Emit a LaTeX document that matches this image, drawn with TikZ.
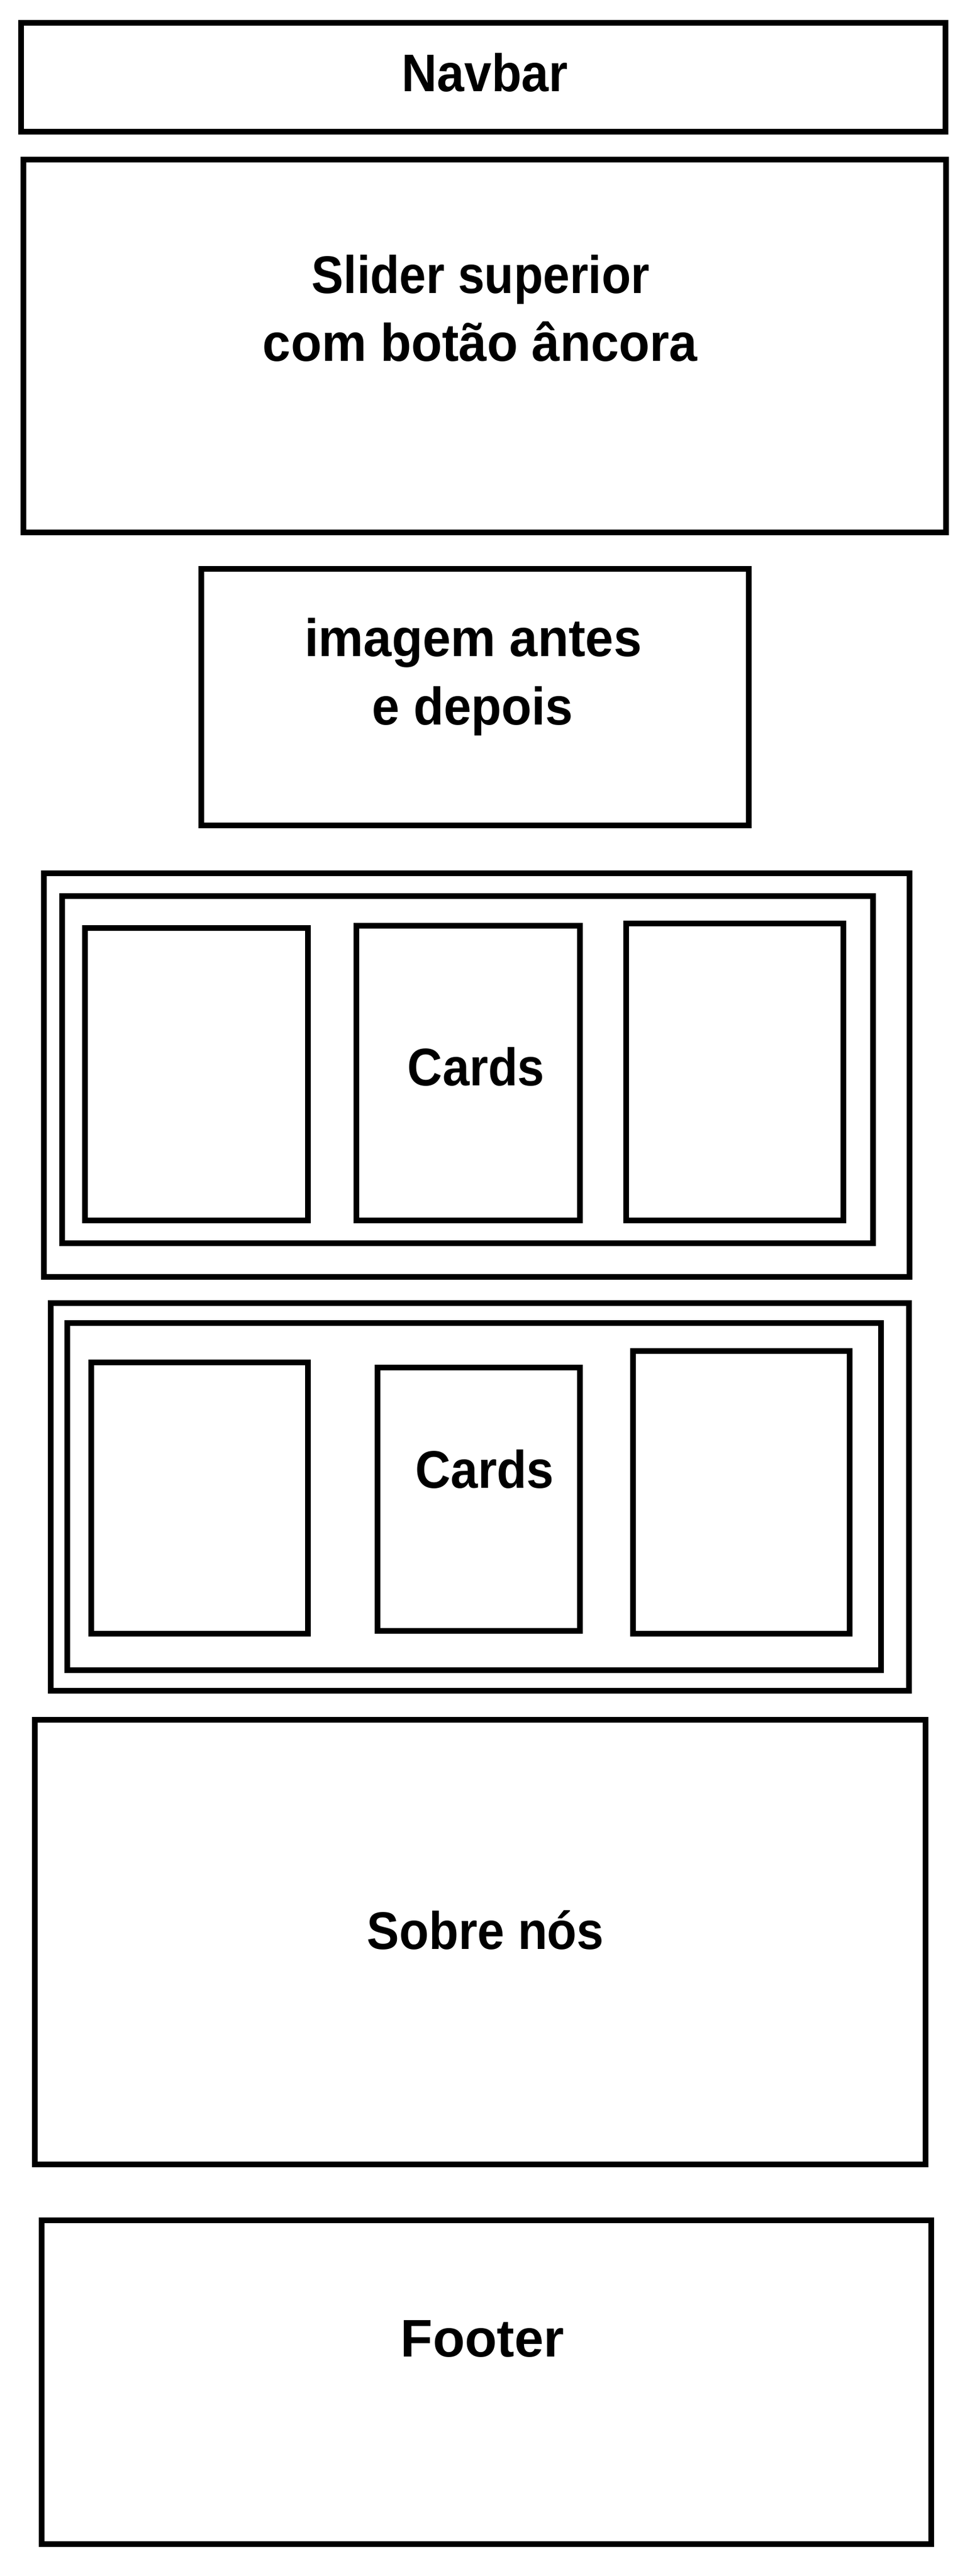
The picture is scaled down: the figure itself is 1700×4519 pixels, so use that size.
\documentclass[tikz,border=0pt]{standalone}
\usepackage{graphicx}
\usepackage{fontspec}
\newfontfamily\lblfont{Liberation Sans}
\newcommand\fitw[2]{\resizebox{#1}{\height}{#2}}
\usetikzlibrary{fit}
\tikzset{
  box/.style={draw=black, line width=0.1cm, inner sep=0pt, outer sep=0pt, fill=none},
  lbl/.style={anchor=base, inner sep=0pt, font=\lblfont\bfseries\fontsize{26.4pt}{34pt}\selectfont}
}
\begin{document}
\begin{tikzpicture}[x=0.01cm, y=-0.01cm]
\useasboundingbox[fill=white] (0,0) rectangle (1700,4519);
% Navbar
\node[box, fit={(37,40) (1658,231)}] (navbar) {};
\node[lbl] (tnavbar) at (850.5,161) {\fitw{2.91cm}{Navbar}};
% Slider
\node[box, fit={(41,280) (1659,934)}] (slider) {};
\node[lbl] (tslider1) at (843,515) {\fitw{5.92cm}{Slider superior}};
\node[lbl] (tslider2) at (842,634) {\fitw{7.62cm}{com botão âncora}};
% Imagem
\node[box, fit={(353,998) (1313,1448)}] (imagem) {};
\node[lbl] (timagem1) at (830,1151) {\fitw{5.91cm}{imagem antes}};
\node[lbl] (timagem2) at (829,1271) {\fitw{3.52cm}{e depois}};
% Cards 1
\node[box, fit={(77,1532) (1595,2240)}] (cardsAouter) {};
\node[box, fit={(109,1572) (1531,2181)}] (cardsAinner) {};
\node[box, fit={(149,1628) (540,2141)}] (cardA1) {};
\node[box, fit={(625,1624) (1017,2141)}] (cardA2) {};
\node[box, fit={(1098,1620) (1479,2141)}] (cardA3) {};
\node[lbl] (tcardsA) at (835,1904) {\fitw{2.40cm}{Cards}};
% Cards 2
\node[box, fit={(89,2286) (1594,2966)}] (cardsBouter) {};
\node[box, fit={(118,2321) (1545,2930)}] (cardsBinner) {};
\node[box, fit={(160,2390) (540,2866)}] (cardB1) {};
\node[box, fit={(662,2399) (1017,2861)}] (cardB2) {};
\node[box, fit={(1110,2370) (1490,2866)}] (cardB3) {};
\node[lbl] (tcardsB) at (850,2610) {\fitw{2.43cm}{Cards}};
% Sobre nos
\node[box, fit={(61,3017) (1623,3797)}] (sobre) {};
\node[lbl] (tsobre) at (851.5,3419) {\fitw{4.15cm}{Sobre nós}};
% Footer
\node[box, fit={(73,3895) (1633,4463)}] (footer) {};
\node[lbl] (tfooter) at (846,4134) {\fitw{2.86cm}{Footer}};
\end{tikzpicture}
\end{document}
